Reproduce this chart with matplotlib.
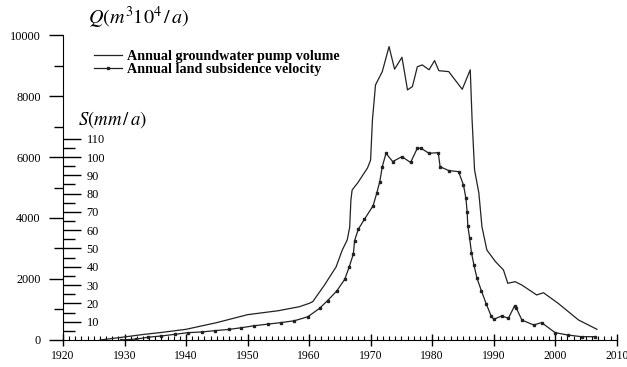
import matplotlib.pyplot as plt
from matplotlib.ticker import MultipleLocator

# annual groundwater pump volume, Q (m3 10^4 / a)
q_years = [1926, 1930, 1933, 1935.7, 1940, 1945, 1950, 1955, 1958.4, 1960, 1960.6,
           1962.5, 1964.4, 1965.4, 1966.2, 1966.6, 1966.8, 1967.0, 1967.9, 1969.5,
           1970.0, 1970.3, 1970.8, 1971.9, 1973.0, 1973.9, 1975.1, 1976.0, 1976.8,
           1977.6, 1978.4, 1979.5, 1980.4, 1981.1, 1982.7, 1984.9, 1986.2, 1986.5,
           1986.9, 1987.6, 1988.0, 1988.1, 1988.9, 1990.3, 1991.6, 1992.3, 1993.5,
           1994.6, 1997.0, 1998.1, 2000.5, 2003.8, 2006.8]
q_values = [0, 100, 180, 240, 350, 570, 830, 960, 1090, 1200, 1257,
            1800, 2400, 2950, 3280, 3700, 4590, 4920, 5150, 5640,
            5900, 7216, 8364, 8800, 9620, 8880, 9270, 8200, 8310,
            8960, 9020, 8860, 9160, 8830, 8800, 8220, 8860, 7216,
            5576, 4820, 3940, 3716, 2950, 2570, 2296, 1860, 1912,
            1800, 1476, 1550, 1200, 656, 350]

# annual land subsidence velocity, S (mm/a)
s_years = [1929.5, 1931.9, 1933.8, 1936.0, 1938.2, 1940.3, 1942.6, 1944.7, 1947.0,
           1949.0, 1951.1, 1953.4, 1955.4, 1957.6, 1959.8, 1961.7, 1963.0, 1964.5,
           1965.8, 1966.5, 1967.2, 1967.4, 1968.0, 1969.0, 1970.4, 1971.0, 1971.5,
           1971.9, 1972.5, 1973.6, 1975.1, 1976.5, 1977.6, 1978.2, 1979.5, 1981.0,
           1981.3, 1982.7, 1984.3, 1985.1, 1985.5, 1985.7, 1985.8, 1986.1, 1986.4,
           1986.8, 1987.3, 1988.0, 1988.8, 1989.6, 1990.0, 1991.3, 1992.4, 1993.4,
           1993.7, 1994.6, 1996.5, 1997.8, 2000.0, 2002.1, 2004.3, 2006.5]
s_values = [0, 0.5, 1.5, 2.2, 3.1, 4.0, 4.4, 5.1, 5.8,
            6.7, 7.8, 8.7, 9.5, 10.5, 12.7, 17.3, 21.5, 26.8,
            33.2, 39.7, 47.0, 54.3, 60.5, 66.0, 73.3, 80.2, 86.6,
            94.7, 102.0, 97.5, 100.2, 97.0, 104.8, 104.8, 102.0, 102.4,
            94.7, 92.6, 92.0, 84.7, 77.4, 69.8, 62.5, 55.6, 47.7,
            41.0, 33.7, 27.0, 19.7, 13.1, 11.3, 13.1, 11.9, 18.6,
            17.3, 10.9, 8.2, 9.5, 4.0, 2.7, 1.8, 1.8]

plt.rcParams['font.family'] = ['Liberation Serif', 'DejaVu Serif']
plt.rcParams['mathtext.fontset'] = 'stix'

fig = plt.figure(figsize=(6.27, 3.67), dpi=100)
ax = fig.add_axes([0.1005, 0.0736, 0.883, 0.831])

ax.plot(q_years, q_values, color='#222222', lw=0.9,
        label='Annual groundwater pump volume')

ax.set_xlim(1920, 2010)
ax.set_ylim(0, 10000)
for s in ['top', 'right']:
    ax.spines[s].set_visible(False)

ax.xaxis.set_major_locator(MultipleLocator(10))
ax.xaxis.set_minor_locator(MultipleLocator(1))
ax.tick_params(axis='x', which='major', direction='inout', length=8, width=1, labelsize=8.4, pad=3)
ax.tick_params(axis='x', which='minor', direction='in', length=3, width=0.8)
ax.yaxis.set_major_locator(MultipleLocator(2000))
ax.yaxis.set_minor_locator(MultipleLocator(1000))
ax.tick_params(axis='y', which='major', direction='out', length=10, width=1, labelsize=8.8, pad=6)
ax.tick_params(axis='y', which='minor', direction='out', length=6.5, width=1)

# subsidence axis, drawn on the same spine with labels on the inside
ax2 = ax.twinx()
ax2.set_ylim(0, 10000 / 60)
ax2.spines['right'].set_position(('axes', 0))
for s in ['top', 'left', 'bottom', 'right']:
    ax2.spines[s].set_visible(False)
ax2.set_yticks(range(10, 111, 10))
ax2.set_yticks(range(5, 111, 10), minor=True)
ax2.tick_params(axis='y', which='major', direction='out', length=13, width=1, labelsize=8.8, pad=4)
ax2.tick_params(axis='y', which='minor', direction='out', length=8.6, width=1)
ax2.plot(s_years, s_values, color='#222222', lw=0.9, marker='s', ms=1.8,
         label='Annual land subsidence velocity')

fig.text(0.140, 0.950, r'$Q(m^310^4\,/\,a)$', fontsize=14.5, va='center', ha='left')
fig.text(0.124, 0.673, r'$S(mm\,/\,a)$', fontsize=13.5, va='center', ha='left')

h1, l1 = ax.get_legend_handles_labels()
h2, l2 = ax2.get_legend_handles_labels()
ax2.legend(h1 + h2, l1 + l2, loc='upper left', bbox_to_anchor=(0.043, 0.975),
           frameon=False, borderpad=0, labelspacing=0.0, handlelength=2.0,
           handletextpad=0.35, prop={'family': 'Liberation Serif', 'weight': 'bold', 'size': 10.2})

fig.savefig('out.png', dpi=100)
